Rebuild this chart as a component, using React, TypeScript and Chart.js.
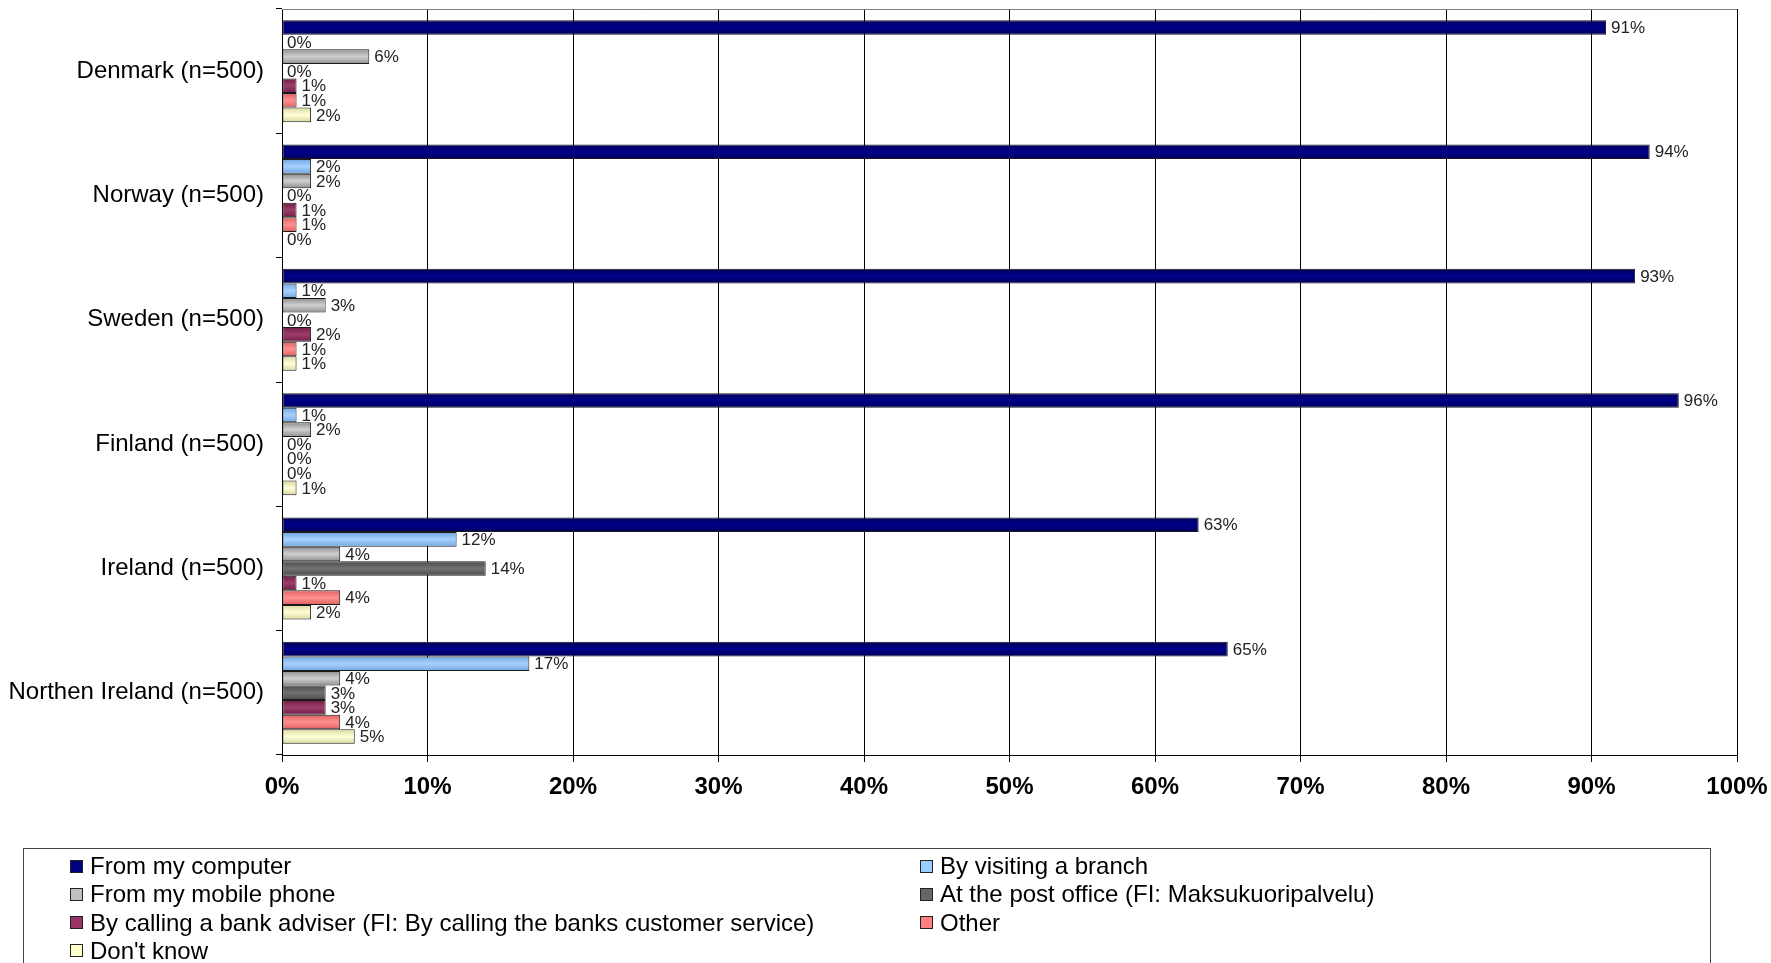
import React, { useEffect, useRef } from "react";
import { Chart, registerables } from "chart.js";

Chart.register(...registerables);

const categories = [
  "Denmark (n=500)",
  "Norway (n=500)",
  "Sweden (n=500)",
  "Finland (n=500)",
  "Ireland (n=500)",
  "Northen Ireland (n=500)",
];

const seriesNames = [
  "From my computer",
  "By visiting a branch",
  "From my mobile phone",
  "At the post office (FI: Maksukuoripalvelu)",
  "By calling a bank adviser (FI: By calling the banks customer service)",
  "Other",
  "Don't know",
];

const fromComputer = [91, 94, 93, 96, 63, 65];
const visitingBranch = [0, 2, 1, 1, 12, 17];
const mobilePhone = [6, 2, 3, 2, 4, 4];
const postOffice = [0, 0, 0, 0, 14, 3];
const callingAdviser = [1, 1, 2, 0, 1, 3];
const other = [1, 1, 1, 0, 4, 4];
const dontKnow = [2, 0, 1, 1, 2, 5];

const xTicks = [0, 10, 20, 30, 40, 50, 60, 70, 80, 90, 100];

const seriesValues = [fromComputer, visitingBranch, mobilePhone, postOffice, callingAdviser, other, dontKnow];
// [edge colour, centre colour, legend colour]
const seriesColors: [string, string, string][] = [
  ["#000058", "#00008c", "#000080"],
  ["#6fa6e0", "#a8d2ff", "#99ccff"],
  ["#8e8e8e", "#d0d0d0", "#c0c0c0"],
  ["#4a4a4a", "#727272", "#666666"],
  ["#6e1f45", "#a03c6c", "#993366"],
  ["#e06060", "#ff9090", "#ff8080"],
  ["#d8d8a0", "#ffffd8", "#ffffcc"],
];

const CAT_PCT = 0.82;
const FONT = "'Liberation Sans', Arial, sans-serif";

const dataLabelPlugin = {
  id: "dataLabels",
  beforeDatasetsDraw(chart: any) {
    const { ctx, chartArea } = chart;
    ctx.save();
    ctx.strokeStyle = "#808080";
    ctx.lineWidth = 1;
    ctx.beginPath();
    ctx.moveTo(chartArea.left, chartArea.top + 0.5);
    ctx.lineTo(chartArea.right, chartArea.top + 0.5);
    ctx.stroke();
    ctx.restore();
  },
  afterDatasetsDraw(chart: any) {
    const { ctx } = chart;
    ctx.save();
    ctx.font = `17px ${FONT}`;
    ctx.fillStyle = "#222";
    ctx.textAlign = "left";
    ctx.textBaseline = "middle";
    chart.data.datasets.forEach((ds: any, di: number) => {
      const meta = chart.getDatasetMeta(di);
      meta.data.forEach((el: any, i: number) => {
        const v = ds.data[i];
        ctx.fillText(`${v}%`, el.x + 5, el.y + 1);
      });
    });
    ctx.restore();
  },
};

export default function App() {
  const canvasRef = useRef<HTMLCanvasElement | null>(null);

  useEffect(() => {
    const canvas = canvasRef.current;
    if (!canvas) return;
    const n = seriesValues.length;
    const chart = new Chart(canvas, {
      type: "bar",
      data: {
        labels: categories,
        datasets: seriesValues.map((vals, si) => ({
          label: seriesNames[si],
          data: vals,
          borderColor: "#1a1a1a",
          borderWidth: (c: any) => (c.raw === 0 ? 0 : 1),
          borderSkipped: false,
          backgroundColor: (c: any) => {
            const [edge, mid, flat] = seriesColors[si];
            const ch = c.chart;
            const y = ch.scales && ch.scales.y;
            if (!y || c.type !== "data" || !ch.chartArea) return flat;
            const center = y.getPixelForValue(c.dataIndex);
            const band = ((y.bottom - y.top) / categories.length) * CAT_PCT;
            const th = band / n;
            const top = center - band / 2 + c.datasetIndex * th;
            if (!isFinite(top)) return flat;
            const g = ch.ctx.createLinearGradient(0, top, 0, top + th);
            g.addColorStop(0, edge);
            g.addColorStop(0.5, mid);
            g.addColorStop(1, edge);
            return g;
          },
          categoryPercentage: CAT_PCT,
          barPercentage: 1.0,
        })),
      },
      options: {
        indexAxis: "y",
        responsive: false,
        animation: false,
        layout: { padding: { top: 9, right: 34, left: 0, bottom: 0 } },
        plugins: {
          legend: { display: false },
          tooltip: { enabled: false },
        },
        scales: {
          x: {
            type: "linear",
            min: 0,
            max: 100,
            afterBuildTicks: (axis: any) => {
              axis.ticks = xTicks.map((v) => ({ value: v }));
            },
            afterFit: (axis: any) => {
              axis.height = 963 - 755;
              axis.paddingLeft = 0;
              axis.paddingRight = 0;
            },
            grid: {
              color: "#000",
              lineWidth: 1,
              drawTicks: true,
              tickLength: 7,
              tickColor: "#000",
            },
            border: { display: true, color: "#000", width: 1 },
            ticks: {
              autoSkip: false,
              maxRotation: 0,
              padding: 11,
              color: "#000",
              font: { family: FONT, size: 24, weight: "bold" },
              callback: (v: any) => `${v}%`,
            },
          },
          y: {
            type: "category",
            afterFit: (axis: any) => {
              axis.width = 282;
              axis.paddingTop = 0;
              axis.paddingBottom = 0;
            },
            grid: {
              offset: true,
              drawOnChartArea: false,
              drawTicks: true,
              tickLength: 6,
              color: "#000",
            },
            border: { display: true, color: "#000", width: 1 },
            ticks: {
              padding: 12,
              color: "#000",
              font: { family: FONT, size: 24 },
            },
          },
        },
      } as any,
      plugins: [dataLabelPlugin],
    });
    return () => chart.destroy();
  }, []);

  const legendRows: number[][] = [
    [0, 1],
    [2, 3],
    [4, 5],
    [6],
  ];

  return (
    <div
      style={{
        position: "fixed",
        left: 0,
        top: 0,
        width: 1771,
        height: 963,
        overflow: "hidden",
        background: "#fff",
      }}
    >
      <canvas ref={canvasRef} width={1771} height={963} style={{ position: "absolute", left: 0, top: 0 }} />
      <div
        style={{
          position: "absolute",
          left: 23,
          top: 848,
          width: 1688,
          height: 140,
          border: "1px solid #444",
          boxSizing: "border-box",
          fontFamily: FONT,
          fontSize: 24,
          color: "#000",
        }}
      >
        {legendRows.map((row, ri) =>
          row.map((si, ci) => (
            <div
              key={si}
              style={{
                position: "absolute",
                left: ci === 0 ? 46 : 896,
                top: 17 + ri * 28.3 - 14,
                height: 28,
                display: "flex",
                alignItems: "center",
                whiteSpace: "nowrap",
              }}
            >
              <span
                style={{
                  display: "inline-block",
                  width: 11,
                  height: 11,
                  background: seriesColors[si][2],
                  border: "1px solid #222",
                  marginRight: 7,
                }}
              />
              <span>{seriesNames[si]}</span>
            </div>
          ))
        )}
      </div>
    </div>
  );
}
